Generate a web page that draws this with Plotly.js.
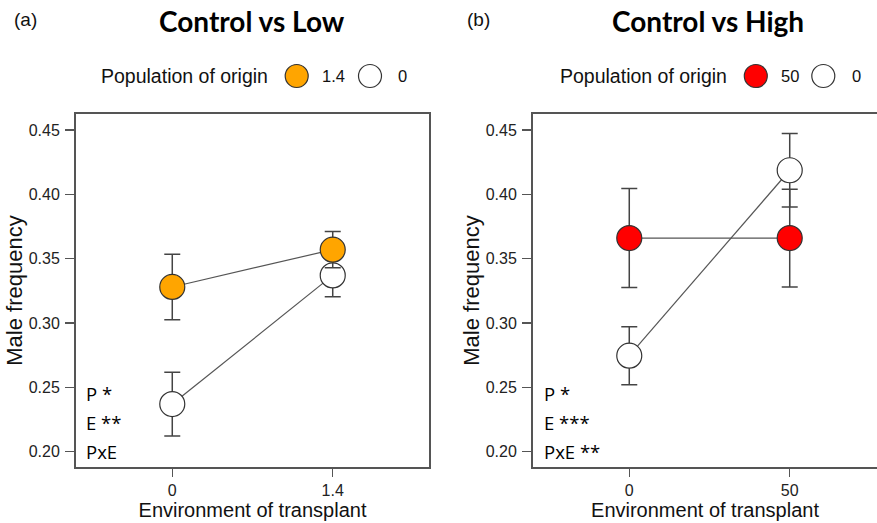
<!DOCTYPE html>
<html>
<head>
<meta charset="utf-8">
<script src="https://cdn.plot.ly/plotly-3.0.1.min.js"></script>
<style>html,body{margin:0;padding:0;background:#fff;} #chart{width:877px;height:523px;}</style>
</head>
<body>
<div id="chart"></div>
<script>
// ---- Data ----
const lowEnv = ['0', '1.4'];
const lowPop14 = [0.328, 0.357];
const lowPop14Err = [0.0255, 0.014];
const lowPop0 = [0.237, 0.337];
const lowPop0Err = [0.0248, 0.0166];

const highEnv = ['0', '50'];
const highPop50 = [0.366, 0.366];
const highPop50Err = [0.0385, 0.038];
const highPop0 = [0.2746, 0.4187];
const highPop0Err = [0.0225, 0.0285];

const statsLow = ['P *', 'E **', 'PxE'];
const statsHigh = ['P *', 'E ***', 'PxE **'];

const W = 877, H = 523;
const px = v => v / W;
const py = v => 1 - v / H;

const lineCol = '#555';
const edge = '#333';

function series(x, y, err, fill, xa, ya, name) {
  return {
    type: 'scatter', mode: 'lines+markers', name: name,
    x: x, y: y, xaxis: xa, yaxis: ya,
    line: {color: lineCol, width: 1.2},
    marker: {size: 25, color: fill, line: {color: edge, width: 1.2}},
    error_y: {type: 'data', array: err, visible: true, color: '#444', thickness: 1.5, width: 8},
    showlegend: false, cliponaxis: false
  };
}

const traces = [
  series(lowEnv, lowPop0, lowPop0Err, '#FFFFFF', 'x', 'y', '0'),
  series(lowEnv, lowPop14, lowPop14Err, '#FFA500', 'x', 'y', '1.4'),
  series(highEnv, highPop0, highPop0Err, '#FFFFFF', 'x2', 'y2', '0'),
  series(highEnv, highPop50, highPop50Err, '#FF0000', 'x2', 'y2', '50')
];

const tickFont = {family: 'Arial, Liberation Sans, sans-serif', size: 16, color: '#222'};
const titleFont = {family: 'Arial, Liberation Sans, sans-serif', size: 20, color: '#111'};
const yTitleFont = {family: 'Arial, Liberation Sans, sans-serif', size: 22, color: '#111'};

function xax(domain, range) {
  return {
    domain: domain, type: 'category', range: range,
    showline: true, mirror: true, linecolor: '#555', linewidth: 2,
    showgrid: false, zeroline: false,
    ticks: 'outside', ticklen: 8, tickwidth: 1.5, tickcolor: '#555',
    tickfont: tickFont,
    title: {text: 'Environment of transplant', font: titleFont, standoff: 0}
  };
}
function yax(domain, anchor, mirror) {
  return {
    domain: domain, anchor: anchor, range: [0.1881, 0.4624],
    tickvals: [0.20, 0.25, 0.30, 0.35, 0.40, 0.45], tickformat: '.2f',
    showline: true, mirror: mirror, linecolor: '#555', linewidth: 2,
    showgrid: false, zeroline: false,
    ticks: 'outside', ticklen: 9, tickwidth: 1.5, tickcolor: '#555',
    tickfont: tickFont, ticklabelstandoff: 2,
    title: {text: 'Male frequency', font: yTitleFont, standoff: 0}
  };
}

const yDom = [py(467), py(114)];
const layout = {
  width: W, height: H, autosize: false,
  margin: {l: 0, r: 0, t: 0, b: 0},
  paper_bgcolor: '#fff', plot_bgcolor: '#fff',
  showlegend: false,
  xaxis: Object.assign(xax([px(76), px(429)], [-0.6, 1.6]), {anchor: 'y'}),
  yaxis: yax(yDom, 'x', true),
  xaxis2: Object.assign(xax([px(533), 1], [-0.6, 1.544]), {anchor: 'y2'}),
  yaxis2: yax(yDom, 'x2', false),
  annotations: [],
  shapes: []
};

function ann(text, x, y, font, xanchor) {
  layout.annotations.push({text: text, xref: 'paper', yref: 'paper', x: px(x), y: py(y),
    xanchor: xanchor || 'center', yanchor: 'middle', showarrow: false, font: font});
}
const calTitle = {family: 'Lato, Carlito, Calibri, sans-serif', size: 28, color: '#000', weight: 'bold'};
const panelFont = {family: 'Arial, Liberation Sans, sans-serif', size: 19, color: '#111'};
const legFont = {family: 'Arial, Liberation Sans, sans-serif', size: 19.5, color: '#111'};
const legSmall = {family: 'Arial, Liberation Sans, sans-serif', size: 16.5, color: '#111'};
const statFont = {family: 'Open Sans, Noto Sans, sans-serif', size: 18.5, color: '#000'};

ann('(a)', 25, 20, panelFont);
ann('<b>Control vs Low</b>', 251.5, 21, calTitle);
ann('(b)', 479, 20, panelFont);
ann('<b>Control vs High</b>', 707.5, 21, calTitle);

ann('Population of origin', 184, 76, legFont);
ann('1.4', 333.5, 76, legSmall);
ann('0', 402.5, 76, legSmall);
ann('Population of origin', 643, 76, legFont);
ann('50', 790, 76, legSmall);
ann('0', 856, 76, legSmall);

function legDot(cx, cy, fill) {
  layout.shapes.push({type: 'circle', xref: 'paper', yref: 'paper',
    xsizemode: 'pixel', ysizemode: 'pixel', xanchor: px(cx), yanchor: py(cy),
    x0: -11.5, x1: 11.5, y0: -11.5, y1: 11.5,
    fillcolor: fill, line: {color: edge, width: 1.2}});
}
legDot(296.7, 76, '#FFA500');
legDot(370, 76, '#FFFFFF');
legDot(755.8, 76, '#FF0000');
legDot(823.3, 76, '#FFFFFF');

const statY = [393, 422, 451.5];
statsLow.forEach((t, i) => ann(t, 84, statY[i], statFont, 'left'));
statsHigh.forEach((t, i) => ann(t, 542, statY[i], statFont, 'left'));

Plotly.newPlot('chart', traces, layout, {displayModeBar: false, staticPlot: true});
</script>
</body>
</html>
